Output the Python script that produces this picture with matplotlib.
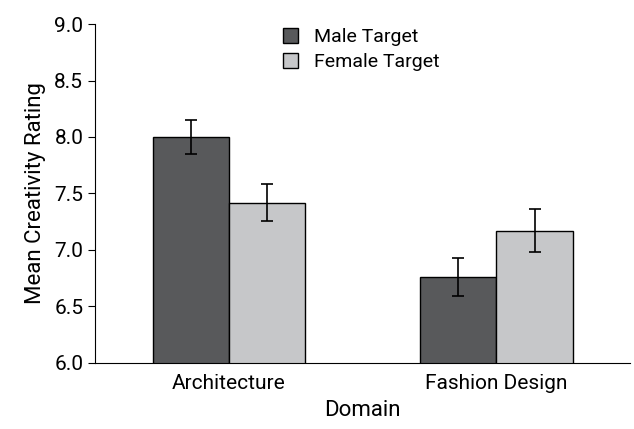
import numpy as np
import matplotlib.pyplot as plt

plt.rcParams['font.family'] = ['Liberation Sans Narrow', 'Roboto', 'DejaVu Sans']

domains = ['Architecture', 'Fashion Design']
male = [8.00, 6.76]
female = [7.42, 7.17]
male_err = [0.15, 0.17]
female_err = [0.16, 0.19]

fig = plt.figure(figsize=(6.34, 4.29), dpi=100)
ax = fig.add_axes([0.15, 0.154, 0.844, 0.79])

x = np.arange(len(domains))
w = 0.285
ekw = dict(elinewidth=1.2, capthick=1.2)
ax.bar(x - w / 2, male, w, yerr=male_err, color='#58595b', edgecolor='black',
       linewidth=1, capsize=4, error_kw=ekw, label='Male Target')
ax.bar(x + w / 2, female, w, yerr=female_err, color='#c6c7c9', edgecolor='black',
       linewidth=1, capsize=4, error_kw=ekw, label='Female Target')

ax.set_ylim(6.0, 9.0)
ax.set_xlim(-0.5, 1.5)
ax.set_yticks(np.arange(6.0, 9.01, 0.5))
ax.set_yticklabels(['%.1f' % v for v in np.arange(6.0, 9.01, 0.5)])
ax.set_xticks(x)
ax.set_xticklabels(domains)
ax.tick_params(axis='x', length=0, labelsize=15, pad=8)
ax.tick_params(axis='y', length=5, labelsize=15, direction='out')
ax.spines['top'].set_visible(False)
ax.spines['right'].set_visible(False)
ax.set_ylabel('Mean Creativity Rating', fontsize=16, labelpad=6)
ax.set_xlabel('Domain', fontsize=16, labelpad=5)

ax.legend(loc='upper center', bbox_to_anchor=(0.497, 1.04), frameon=False,
          fontsize=14, handlelength=0.8, handleheight=0.8, labelspacing=0.35)

plt.savefig('out.png')
